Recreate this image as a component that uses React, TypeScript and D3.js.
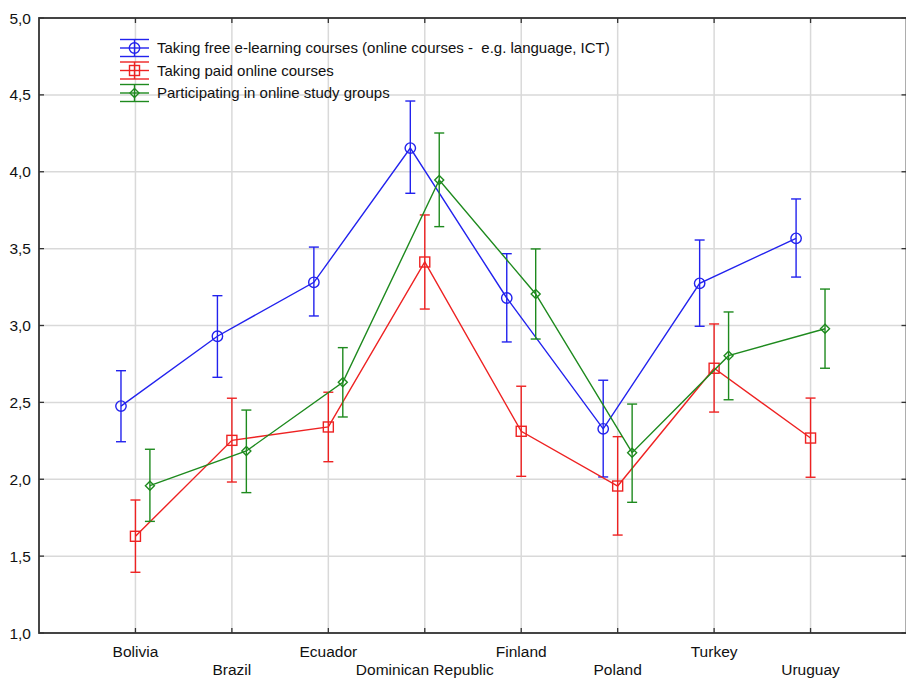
import React from "react";
import * as d3 from "d3";

const countries = ["Bolivia", "Brazil", "Ecuador", "Dominican Republic", "Finland", "Poland", "Turkey", "Uruguay"];
const yTicks = [1.0, 1.5, 2.0, 2.5, 3.0, 3.5, 4.0, 4.5, 5.0];

const freeMean = [2.476, 2.93, 3.281, 4.154, 3.179, 2.328, 3.274, 3.567];
const freeLow = [2.244, 2.663, 3.062, 3.86, 2.893, 2.015, 2.995, 3.315];
const freeHigh = [2.706, 3.194, 3.51, 4.46, 3.467, 2.644, 3.556, 3.823];

const paidMean = [1.629, 2.253, 2.34, 3.413, 2.312, 1.956, 2.722, 2.268];
const paidLow = [1.395, 1.982, 2.114, 3.107, 2.019, 1.637, 2.437, 2.013];
const paidHigh = [1.865, 2.527, 2.566, 3.719, 2.605, 2.277, 3.01, 2.528];

const groupMean = [1.958, 2.184, 2.631, 3.946, 3.205, 2.173, 2.804, 2.979];
const groupLow = [1.726, 1.913, 2.405, 3.643, 2.912, 1.85, 2.517, 2.722];
const groupHigh = [2.195, 2.45, 2.856, 4.252, 3.498, 2.489, 3.088, 3.237];

const seriesNames = [
  "Taking free e-learning courses (online courses -  e.g. language, ICT)",
  "Taking paid online courses",
  "Participating in online study groups",
];
const colors = ["#2222ee", "#ee2222", "#1e8a1e"];
const markers = ["circle", "square", "diamond"];
const offsets = [-0.15, 0, 0.15];

const W = 906, H = 678;
const L = 39, R = 906.5, T = 18, B = 633;

export default function App() {
  const x = d3.scaleLinear().domain([0, 9]).range([L, L + 868]);
  const y = d3.scaleLinear().domain([1, 5]).range([B, T]);
  const series = [
    { mean: freeMean, low: freeLow, high: freeHigh },
    { mean: paidMean, low: paidLow, high: paidHigh },
    { mean: groupMean, low: groupLow, high: groupHigh },
  ];
  const line = d3.line<[number, number]>().x((d) => d[0]).y((d) => d[1]);
  const font = "'Liberation Sans', Arial, sans-serif";

  const marker = (type: string, cx: number, cy: number, color: string, key?: string) => {
    if (type === "circle") return <circle key={key} cx={cx} cy={cy} r={5.2} fill="none" stroke={color} strokeWidth={1.4} />;
    if (type === "square") return <rect key={key} x={cx - 5} y={cy - 5} width={10} height={10} fill="none" stroke={color} strokeWidth={1.4} />;
    const s = 4.5;
    return (
      <path key={key} d={`M${cx},${cy - s}L${cx + s},${cy}L${cx},${cy + s}L${cx - s},${cy}Z`} fill="none" stroke={color} strokeWidth={1.4} />
    );
  };

  const cap = 5;
  const legendY = [48, 70.5, 93];

  return (
    <svg width={W} height={H} style={{ position: "absolute", left: 0, top: 0, background: "#fff" }} fontFamily={font}>
      <rect x={0} y={0} width={W} height={H} fill="#fff" />
      {yTicks.map((t) => (
        <line key={"gy" + t} x1={L} x2={R} y1={y(t)} y2={y(t)} stroke="#d9d9d9" strokeWidth={1.5} />
      ))}
      {countries.map((c, i) => (
        <line key={"gx" + c} x1={x(i + 1)} x2={x(i + 1)} y1={T} y2={B} stroke="#d9d9d9" strokeWidth={1.5} />
      ))}
      <rect x={L} y={T} width={R - L} height={B - T} fill="none" stroke="#333" strokeWidth={1.8} />
      {countries.map((c, i) => (
        <g key={"tx" + c}>
          <line x1={x(i + 1)} x2={x(i + 1)} y1={B} y2={B - 5} stroke="#333" strokeWidth={1.3} />
          <line x1={x(i + 1)} x2={x(i + 1)} y1={T} y2={T + 5} stroke="#333" strokeWidth={1.3} />
        </g>
      ))}
      {yTicks.map((t) => (
        <g key={"ty" + t}>
          <line x1={L} x2={L + 5} y1={y(t)} y2={y(t)} stroke="#333" strokeWidth={1.3} />
          <line x1={R} x2={R - 5} y1={y(t)} y2={y(t)} stroke="#333" strokeWidth={1.3} />
          <text x={31} y={y(t) + 5.5} textAnchor="end" fontSize={15.5} fill="#111">
            {t.toFixed(1).replace(".", ",")}
          </text>
        </g>
      ))}
      {countries.map((c, i) => (
        <text key={"lx" + c} x={x(i + 1)} y={i % 2 === 0 ? 657 : 675} textAnchor="middle" fontSize={15.5} fill="#111">
          {c}
        </text>
      ))}
      {series.map((s, si) => {
        const pts: [number, number][] = s.mean.map((m, i) => [x(i + 1 + offsets[si]), y(m)]);
        return (
          <g key={"s" + si}>
            <path d={line(pts) || ""} fill="none" stroke={colors[si]} strokeWidth={1.4} />
            {s.mean.map((m, i) => {
              const cx = x(i + 1 + offsets[si]);
              return (
                <g key={"e" + i}>
                  <line x1={cx} x2={cx} y1={y(s.low[i])} y2={y(s.high[i])} stroke={colors[si]} strokeWidth={1.4} />
                  <line x1={cx - cap} x2={cx + cap} y1={y(s.low[i])} y2={y(s.low[i])} stroke={colors[si]} strokeWidth={1.4} />
                  <line x1={cx - cap} x2={cx + cap} y1={y(s.high[i])} y2={y(s.high[i])} stroke={colors[si]} strokeWidth={1.4} />
                  {marker(markers[si], cx, y(m), colors[si])}
                </g>
              );
            })}
          </g>
        );
      })}
      {seriesNames.map((n, si) => {
        const cy = legendY[si];
        const cx = 134.5;
        return (
          <g key={"lg" + si}>
            <line x1={120} x2={149} y1={cy - 8.5} y2={cy - 8.5} stroke={colors[si]} strokeWidth={1.4} />
            <line x1={120} x2={149} y1={cy + 8.5} y2={cy + 8.5} stroke={colors[si]} strokeWidth={1.4} />
            <line x1={120} x2={149} y1={cy} y2={cy} stroke={colors[si]} strokeWidth={1.4} />
            <line x1={cx} x2={cx} y1={cy - 8.5} y2={cy + 8.5} stroke={colors[si]} strokeWidth={1.4} />
            {marker(markers[si], cx, cy, colors[si])}
            <text x={157} y={cy + 5} fontSize={15} fill="#111" style={{ whiteSpace: "pre" }}>
              {n}
            </text>
          </g>
        );
      })}
    </svg>
  );
}
